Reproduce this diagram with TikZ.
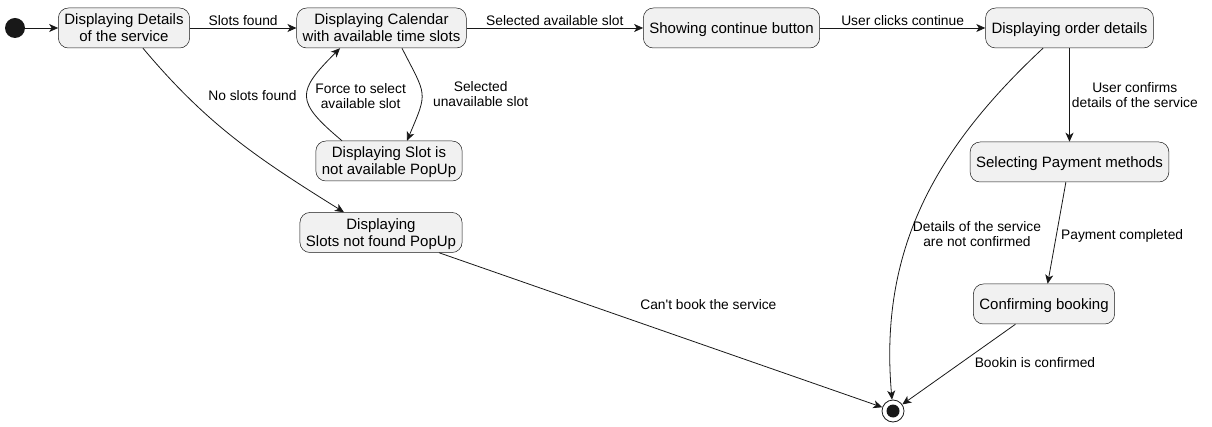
\documentclass[tikz,border=0pt]{standalone}
\usepackage{fontspec}
\setmainfont{Liberation Sans}
\usetikzlibrary{arrows.meta}
\definecolor{umlline}{HTML}{181818}
\definecolor{umlfill}{HTML}{F1F1F1}

\begin{document}
\begin{tikzpicture}[x=1pt, y=-1pt,
  state/.style={draw=umlline, fill=umlfill, line width=0.5pt, rounded corners=10pt,
    minimum height=40pt, inner xsep=6pt, inner ysep=3pt, align=center, text depth=0pt,
    font=\fontsize{15}{17}\selectfont},
  trans/.style={draw=umlline, line width=0.8pt, -{Stealth[length=9pt, width=8pt, inset=2.5pt]}},
  lbl/.style={font=\fontsize{13.8}{15.5}\selectfont, align=center, inner sep=2pt}]
  \useasboundingbox (0,0) rectangle (1212,427);
  \node[circle, fill=umlline, minimum size=20pt, inner sep=0pt] (start) at (15,28) {};
  \node[state] (details) at (124,28) {Displaying Details\\of the service};
  \node[state] (calendar) at (381.5,28) {Displaying Calendar\\with available time slots};
  \node[state] (continue) at (731.5,28) {Showing continue button};
  \node[state] (order) at (1069.5,28) {Displaying order details};
  \node[state] (slotpopup) at (389,161) {Displaying Slot is\\not available PopUp};
  \node[state] (nopopup) at (381,232.5) {Displaying\\Slots not found PopUp};
  \node[state] (payment) at (1069.5,162) {Selecting Payment methods};
  \node[state] (booking) at (1044,304) {Confirming booking};
  \node[circle, draw=umlline, fill=white, line width=0.8pt, minimum size=22pt, inner sep=0pt] (stop) at (893,411) {};
  \fill[umlline] (stop.center) circle (6.5pt);
  \draw[trans] (start) -- (details);
  \draw[trans] (details) -- node[lbl, above] {Slots found} (calendar);
  \draw[trans] (calendar) -- node[lbl, above] {Selected available slot} (continue);
  \draw[trans] (continue) -- node[lbl, above] {User clicks continue} (order);
  \draw[trans] ([xshift=19pt]details.south) to[out=-50, in=148]
    node[lbl, pos=0.24, anchor=west, xshift=18pt, yshift=2pt] {No slots found} ([xshift=-37pt]nopopup.north);
  \draw[trans] ([xshift=20.5pt]calendar.south) to[out=-63, in=67, looseness=1.5]
    node[lbl, pos=0.5, anchor=west, xshift=9pt] {Selected\\unavailable slot} ([xshift=18pt]slotpopup.north);
  \draw[trans] ([xshift=-47pt]slotpopup.north) to[out=140, in=-135, looseness=1.7]
    node[lbl, pos=0.5, anchor=west, xshift=6pt] {Force to select\\available slot} ([xshift=-41.5pt]calendar.south);
  \draw[trans] (order) -- node[lbl, anchor=west] {User confirms\\details of the service} (payment);
  \draw[trans] (payment) -- node[lbl, anchor=west, xshift=2pt, yshift=-3pt] {Payment completed} (booking);
  \draw[trans] ([xshift=-26.5pt]order.south) to[out=-137, in=95]
    node[lbl, pos=0.58, anchor=west] {Details of the service\\are not confirmed} (stop);
  \draw[trans] (nopopup) -- node[lbl, pos=0.637, above=39pt, xshift=-13pt] {Can\textquotesingle t book the service} (stop);
  \draw[trans] (booking) -- node[lbl, pos=0.54, anchor=west, xshift=18pt, yshift=5pt] {Bookin is confirmed} (stop);
\end{tikzpicture}
\end{document}
